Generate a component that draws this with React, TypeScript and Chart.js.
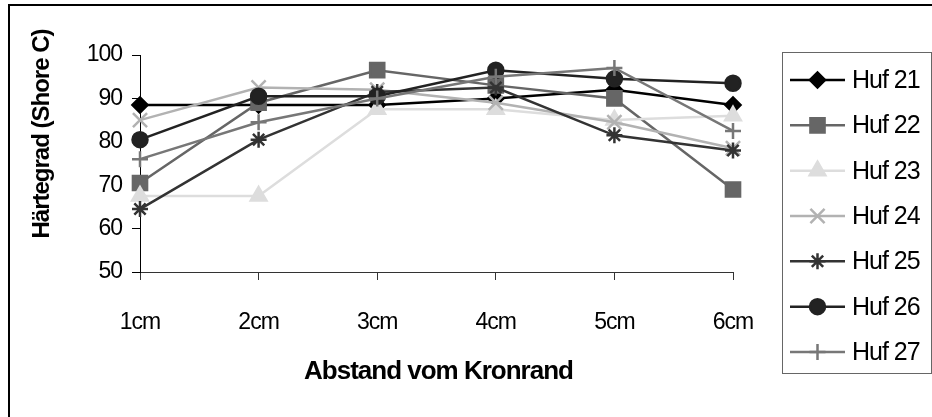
import React, { useEffect, useRef } from 'react';
import { Chart, registerables } from 'chart.js';
import { drawPoint } from 'chart.js/helpers';

Chart.register(...registerables);

const categories = ['1cm', '2cm', '3cm', '4cm', '5cm', '6cm'];
const seriesNames = ['Huf 21', 'Huf 22', 'Huf 23', 'Huf 24', 'Huf 25', 'Huf 26', 'Huf 27'];
const huf21 = [88.5, 88.5, 88.5, 90, 92, 88.5];
const huf22 = [70.5, 89, 96.5, 93, 90, 69];
const huf23 = [67.5, 67.5, 87.5, 87.5, 85, 86];
const huf24 = [85, 92.5, 92, 89, 84.5, 78.5];
const huf25 = [64.5, 80.5, 91.5, 92.5, 81.5, 78];
const huf26 = [80.5, 90.5, 90.5, 96.5, 94.5, 93.5];
const huf27 = [76, 84.5, 90, 95, 97, 82.5];
const seriesValues = [huf21, huf22, huf23, huf24, huf25, huf26, huf27];
const yMin = 50;
const yMax = 100;
const yStep = 10;
const yTitle = 'Härtegrad (Shore C)';
const xTitle = 'Abstand vom Kronrand';

const FONT = "'Liberation Sans', Arial, sans-serif";

const seriesStyles = [
  { color: '#000000', point: 'rectRot', radius: 7.5 },
  { color: '#666666', point: 'rect', radius: 10 },
  { color: '#dddddd', point: 'triangle', radius: 9 },
  { color: '#b2b2b2', point: 'crossRot', radius: 10 },
  { color: '#333333', point: 'star', radius: 8 },
  { color: '#222222', point: 'circle', radius: 7.5 },
  { color: '#777777', point: 'cross', radius: 8 },
];

const decorPlugin = {
  id: 'decor',
  beforeDraw(chart: any) {
    (chart.ctx as any).letterSpacing = '-1px';
  },
  afterDraw(chart: any) {
    const ctx = chart.ctx;
    const area = chart.chartArea;
    ctx.save();
    // outer frame (left and top edges visible)
    ctx.fillStyle = '#000';
    ctx.fillRect(8, 4, chart.width, 2);
    ctx.fillRect(8, 4, 2, chart.height);

    // axis titles
    ctx.fillStyle = '#000';
    ctx.textAlign = 'center';
    ctx.textBaseline = 'middle';
    ctx.font = `bold 24px ${FONT}`;
    ctx.save();
    ctx.translate(42, 134);
    ctx.rotate(-Math.PI / 2);
    ctx.fillText(yTitle, 0, 0);
    ctx.restore();
    ctx.font = `bold 26px ${FONT}`;
    ctx.fillText(xTitle, (area.left + area.right) / 2 + 2, 372);

    // legend
    const boxL = 782, boxT = 52, boxR = 931, boxB = 373;
    ctx.strokeStyle = '#666';
    ctx.lineWidth = 1;
    ctx.strokeRect(boxL + 0.5, boxT + 0.5, boxR - boxL, boxB - boxT);
    const rowStart = 80;
    const rowStep = 45.33;
    chart.data.datasets.forEach((ds: any, i: number) => {
      const y = rowStart + i * rowStep;
      ctx.strokeStyle = ds.borderColor;
      ctx.lineWidth = ds.borderWidth;
      ctx.beginPath();
      ctx.moveTo(790, y);
      ctx.lineTo(845, y);
      ctx.stroke();
      ctx.fillStyle = ds.pointBackgroundColor;
      ctx.strokeStyle = ds.pointBorderColor;
      ctx.lineWidth = ds.pointBorderWidth;
      drawPoint(ctx, { pointStyle: ds.pointStyle, radius: ds.pointRadius, rotation: 0, borderWidth: ds.pointBorderWidth }, 817.5, y);
      ctx.fillStyle = '#000';
      ctx.font = `25px ${FONT}`;
      ctx.textAlign = 'left';
      ctx.textBaseline = 'middle';
      ctx.fillText(ds.label, 852, y + 1);
    });
    ctx.restore();
    (ctx as any).letterSpacing = '0px';
  },
};

export default function App() {
  const ref = useRef<HTMLCanvasElement | null>(null);
  useEffect(() => {
    if (!ref.current) return;
    const datasets = seriesNames.map((name, i) => {
      const st = seriesStyles[i];
      return {
        label: name,
        data: seriesValues[i],
        borderColor: st.color,
        backgroundColor: st.color,
        borderWidth: 2.5,
        pointStyle: st.point,
        pointRadius: st.radius,
        pointHoverRadius: st.radius,
        pointBackgroundColor: st.color,
        pointBorderColor: st.color,
        pointBorderWidth: 2.5,
        tension: 0,
        fill: false,
        order: seriesNames.length - i,
      };
    });
    const chart = new Chart(ref.current, {
      type: 'line',
      data: { labels: categories, datasets },
      plugins: [decorPlugin],
      options: {
        responsive: false,
        animation: false,
        devicePixelRatio: 1,
        layout: { padding: { left: 0, top: 55, right: 199, bottom: 0 } },
        plugins: { legend: { display: false }, tooltip: { enabled: false } },
        scales: {
          x: {
            type: 'category',
            offset: false,
            afterFit: (s: any) => { s.height = 145; },
            grid: { display: true, drawOnChartArea: false, drawTicks: true, tickLength: 8, color: '#333', lineWidth: 1 },
            border: { display: true, color: '#333', width: 1 },
            ticks: { color: '#000', padding: 29, font: { family: FONT, size: 23 }, maxRotation: 0 },
          },
          y: {
            min: yMin,
            max: yMax,
            afterFit: (s: any) => { s.width = 140; },
            grid: { display: true, drawOnChartArea: false, drawTicks: true, tickLength: 8, color: '#000', lineWidth: 1 },
            border: { display: true, color: '#000', width: 1 },
            ticks: { stepSize: yStep, color: '#000', padding: 10, font: { family: FONT, size: 23 } },
          },
        },
      },
    });
    return () => chart.destroy();
  }, []);
  return (
    <div style={{ position: 'fixed', left: 0, top: 0, width: 932, height: 417, background: '#fff' }}>
      <canvas ref={ref} width={932} height={417} style={{ display: 'block' }} />
    </div>
  );
}
